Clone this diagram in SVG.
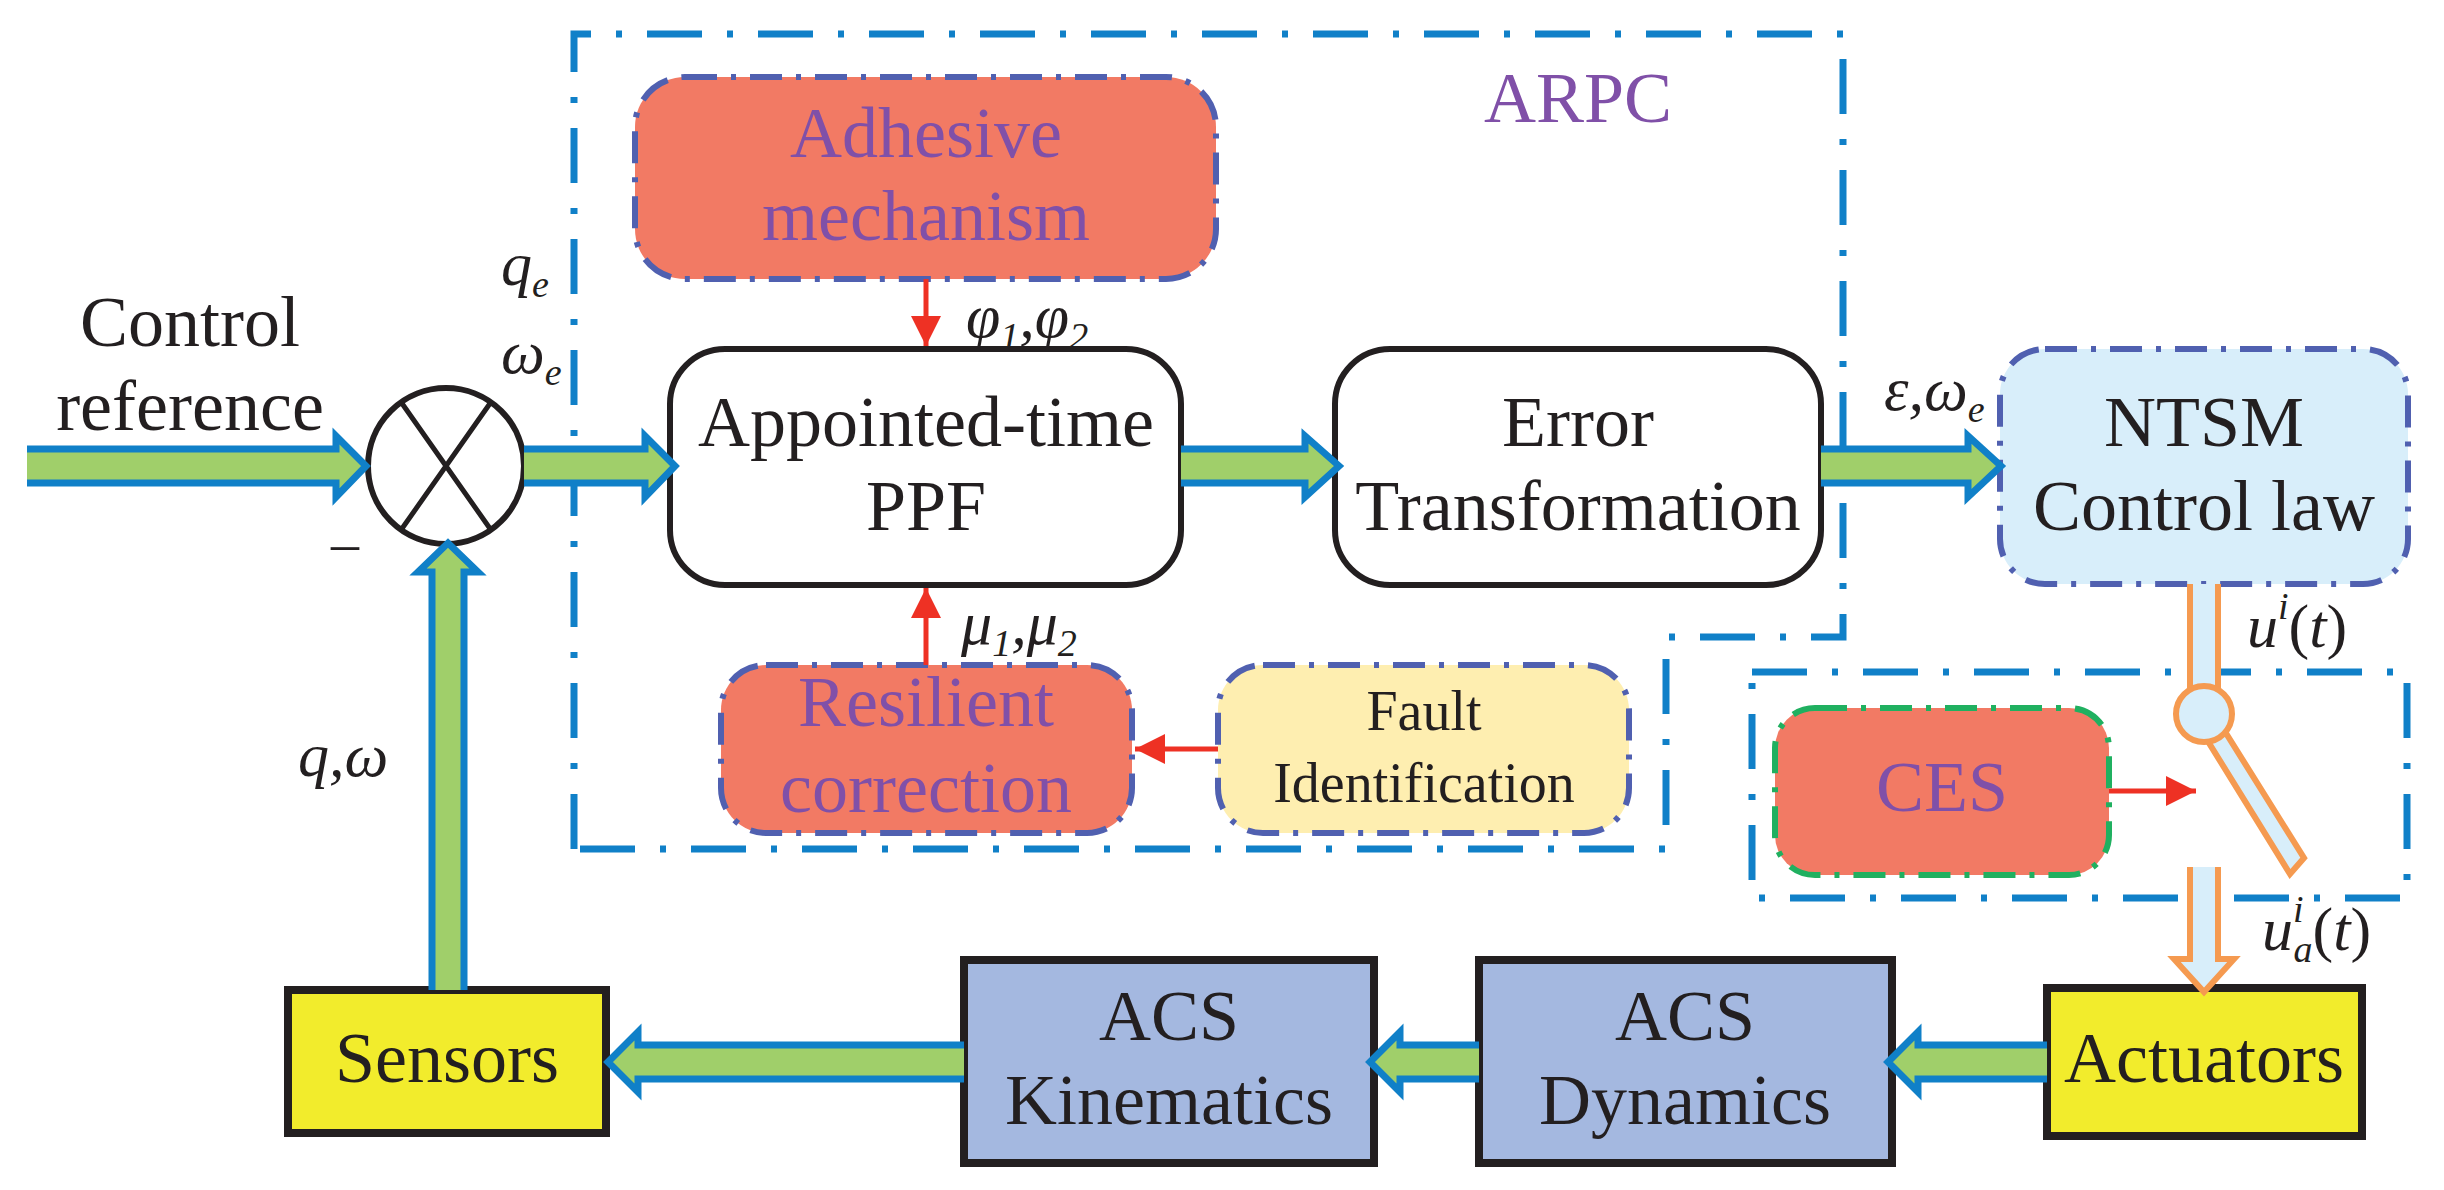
<svg xmlns="http://www.w3.org/2000/svg" width="2444" height="1190" viewBox="0 0 2444 1190">
<style>
text{font-family:"Liberation Serif","DejaVu Serif",serif;fill:#231f20}
.t{font-size:72px;text-anchor:middle}
.tp{font-size:72px;text-anchor:middle;fill:#8050A8}
.ts{font-size:56px;text-anchor:middle}
.m{font-size:62px;font-style:italic}
.sub{font-size:38px;font-style:italic}
.sub1{font-size:38px}
.fat{fill:#A0CF6A;stroke:#1080C8;stroke-width:7}
.grp{fill:none;stroke:#1080C8;stroke-width:7;stroke-dasharray:55 25 6 25}
.nd{stroke:#5060B0;stroke-width:6;stroke-dasharray:32 14 5 14}
.red{stroke:#EE3124;stroke-width:5;fill:none}
.orb{fill:#D8EEFA;stroke:#F59A50;stroke-width:6}
</style>
<defs>
<marker id="ra" viewBox="0 0 10 10" refX="10" refY="5" markerWidth="6" markerHeight="6" markerUnits="strokeWidth" orient="auto"><path d="M0,0L10,5L0,10z" fill="#EE3124"/></marker>
</defs>
<g id="groups">
<path class="grp" d="M574,849V34H1843V637H1666V849H574"/>
<rect class="grp" x="1752" y="672" width="655" height="226"/>
<text x="1578" y="122" class="tp">ARPC</text>
</g>
<g id="adhesive"><rect class="nd" x="635" y="77" width="581" height="202" rx="50" fill="#F27A64"/><text class="tp" x="926" y="157">Adhesive</text><text class="tp" x="926" y="240">mechanism</text></g>
<g id="ppf"><rect x="670" y="349" width="511" height="236" rx="55" fill="#fff" stroke="#231f20" stroke-width="6"/><text class="t" x="926" y="446">Appointed-time</text><text class="t" x="926" y="530">PPF</text></g>
<g id="error"><rect x="1335" y="349" width="486" height="236" rx="55" fill="#fff" stroke="#231f20" stroke-width="6"/><text class="t" x="1578" y="446">Error</text><text class="t" x="1578" y="530">Transformation</text></g>
<g id="ntsm"><rect class="nd" x="2000" y="349" width="408" height="235" rx="45" fill="#D8EEFA"/><text class="t" x="2204" y="446">NTSM</text><text class="t" x="2204" y="530">Control law</text></g>
<g id="resilient"><rect class="nd" x="721" y="665" width="411" height="168" rx="45" fill="#F27A64"/><text class="tp" x="926" y="726">Resilient</text><text class="tp" x="926" y="812">correction</text></g>
<g id="fault"><rect class="nd" x="1218" y="665" width="411" height="168" rx="45" fill="#FEEEB0"/><text class="ts" x="1424" y="730">Fault</text><text class="ts" x="1424" y="802">Identification</text></g>
<g id="ces"><rect x="1775" y="708" width="334" height="167" rx="40" fill="#F27A64" stroke="#20B060" stroke-width="6" stroke-dasharray="32 14 5 14"/><text class="tp" x="1942" y="811">CES</text></g>
<g id="sum"><circle cx="446" cy="466" r="78" fill="#fff" stroke="#231f20" stroke-width="6"/><path d="M401,402L491,530M491,402L401,530" stroke="#231f20" stroke-width="5"/></g>
<g id="sensors"><rect x="288" y="990" width="318" height="143" fill="#F2EC2C" stroke="#231f20" stroke-width="8"/><text class="t" x="447" y="1082">Sensors</text></g>
<g id="kinematics"><rect x="964" y="960" width="410" height="203" fill="#A4B8E0" stroke="#231f20" stroke-width="8"/><text class="t" x="1169" y="1040">ACS</text><text class="t" x="1169" y="1124">Kinematics</text></g>
<g id="dynamics"><rect x="1479" y="960" width="413" height="203" fill="#A4B8E0" stroke="#231f20" stroke-width="8"/><text class="t" x="1685" y="1040">ACS</text><text class="t" x="1685" y="1124">Dynamics</text></g>
<g id="actuators"><rect x="2047" y="988" width="315" height="148" fill="#F2EC2C" stroke="#231f20" stroke-width="8"/><text class="t" x="2204" y="1082">Actuators</text></g>
<g id="connectors">
<path class="fat" d="M27,449H336V436L366,466L336,497V483H27"/>
<path class="fat" d="M524,449H645V436L675,466L645,497V483H524"/>
<path class="fat" d="M1181,449H1305V436L1339,466L1305,497V483H1181"/>
<path class="fat" d="M1821,449H1968V436L2001,466L1968,497V483H1821"/>
<path class="fat" d="M2047,1045H1918V1032L1888,1062L1918,1092V1079H2047"/>
<path class="fat" d="M1479,1045H1400V1032L1370,1062L1400,1092V1079H1479"/>
<path class="fat" d="M964,1045H638V1032L608,1062L638,1092V1079H964"/>
<path class="fat" d="M432,990V572H418L448,543L478,572H464V990"/>
<path class="orb" d="M2190,584V690H2218V584"/>
<path class="orb" d="M2190,867V959H2174L2204,992L2234,959H2218V867"/>
<polygon class="orb" points="2196,722 2214,714 2304,858 2290,874"/>
<circle class="orb" cx="2204" cy="714" r="28"/>
<line class="red" x1="926" y1="279" x2="926" y2="346" marker-end="url(#ra)"/>
<line class="red" x1="926" y1="665" x2="926" y2="588" marker-end="url(#ra)"/>
<line class="red" x1="1218" y1="749" x2="1135" y2="749" marker-end="url(#ra)"/>
<line class="red" x1="2109" y1="791" x2="2196" y2="791" marker-end="url(#ra)"/>
</g>
<g id="labels">
<text x="190" y="346" class="t">Control</text>
<text x="190" y="430" class="t">reference</text>
<text x="501" y="285" class="m">q<tspan class="sub" dy="12">e</tspan></text>
<text x="501" y="373" class="m">ω<tspan class="sub" dy="12">e</tspan></text>
<text x="331" y="562" style="font-size:56px">–</text>
<text x="298" y="776" class="m">q,ω</text>
<text x="966" y="337" class="m">φ<tspan class="sub1" dy="12">1</tspan><tspan dy="-12">,φ</tspan><tspan class="sub1" dy="12">2</tspan></text>
<text x="961" y="644" class="m">μ<tspan class="sub1" dy="12">1</tspan><tspan dy="-12">,μ</tspan><tspan class="sub1" dy="12">2</tspan></text>
<text x="1884" y="410" class="m">ε,ω<tspan class="sub" dy="12">e</tspan></text>
<text x="2247" y="647" class="m">u<tspan class="sub" dy="-28">i</tspan><tspan dy="28" font-style="normal">(</tspan>t<tspan font-style="normal">)</tspan></text>
<text x="2262" y="950" class="m">u<tspan class="sub" dy="-28">i</tspan><tspan class="sub" dx="-10" dy="40">a</tspan><tspan dy="-12" font-style="normal">(</tspan>t<tspan font-style="normal">)</tspan></text>
</g>
</svg>
